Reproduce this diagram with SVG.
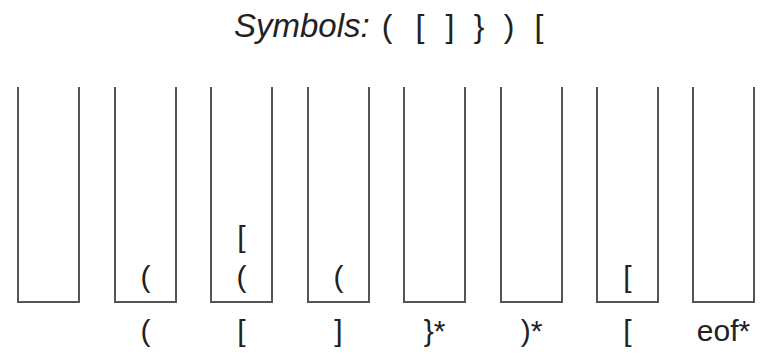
<svg xmlns="http://www.w3.org/2000/svg" width="762" height="355" viewBox="0 0 762 355">
<style>
.stk{fill:none;stroke:#555;stroke-width:2}
text{font-family:"Liberation Sans",Arial,sans-serif;font-size:30px;fill:#222;text-anchor:middle}
.title{font-style:italic;text-anchor:start;font-size:33px}
.sym{font-size:32px}
</style>
<rect width="762" height="355" fill="#fff"/>
<g id="title">
<text class="title" x="234" y="37">Symbols:</text>
<text class="sym" x="387" y="37">(</text>
<text class="sym" x="420" y="37">[</text>
<text class="sym" x="450" y="37">]</text>
<text class="sym" x="479" y="37">}</text>
<text class="sym" x="509" y="37">)</text>
<text class="sym" x="539" y="37">[</text>
</g>
<g id="stack1"><path class="stk" d="M18,87V302H79V87"/></g>
<g id="stack2"><path class="stk" d="M115,87V302H176V87"/><text x="145.5" y="287">(</text><text x="145.5" y="341">(</text></g>
<g id="stack3"><path class="stk" d="M211,87V302H272V87"/><text x="241.5" y="287">(</text><text x="241.5" y="247">[</text><text x="241.5" y="341">[</text></g>
<g id="stack4"><path class="stk" d="M308,87V302H369V87"/><text x="338.5" y="287">(</text><text x="338.5" y="341">]</text></g>
<g id="stack5"><path class="stk" d="M404,87V302H465V87"/><text x="434.5" y="341">}*</text></g>
<g id="stack6"><path class="stk" d="M501,87V302H562V87"/><text x="531.5" y="341">)*</text></g>
<g id="stack7"><path class="stk" d="M597,87V302H658V87"/><text x="627.5" y="287">[</text><text x="627.5" y="341">[</text></g>
<g id="stack8"><path class="stk" d="M693,87V302H754V87"/><text x="723.5" y="341">eof*</text></g>
<g id="connectors"/>
</svg>
